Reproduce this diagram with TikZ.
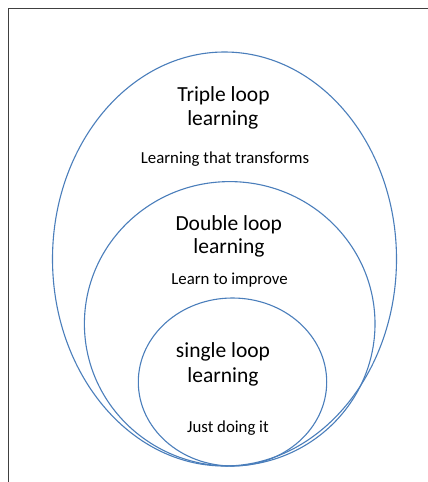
\documentclass[tikz,border=0pt]{standalone}
\usepackage{fontspec}
\setmainfont{Carlito}
\usetikzlibrary{shapes.geometric}
\definecolor{loopblue}{HTML}{4A7EBB}
\definecolor{framegray}{HTML}{404040}
\begin{document}
\begin{tikzpicture}[x=1pt,y=-1pt,
  loopring/.style={draw=loopblue,line width=1.1pt,ellipse,inner sep=0pt},
  titletext/.style={inner sep=0pt,anchor=base,font=\fontsize{21.5}{24}\selectfont},
  subtext/.style={inner sep=0pt,anchor=base,font=\fontsize{16.8}{20}\selectfont}]
\useasboundingbox (0,0) rectangle (428,482);
\fill[white] (0,0) rectangle (428,482);
\coordinate (ftr) at (428,8);
\coordinate (fc) at (8,8);
\coordinate (fbl) at (8,482);
\draw[framegray,line width=1pt] (ftr) -- (fc) -- (fbl);
% rings
\node[loopring,minimum width=344pt,minimum height=414pt] (outer) at (224.5,259) {};
\node[loopring,minimum width=290.6pt,minimum height=284.4pt] (middle) at (229.7,323.8) {};
\node[loopring,minimum width=188.4pt,minimum height=168pt] (inner) at (232.5,382) {};
% triple
\node[titletext] (t1) at (223.5,101.7) {Triple loop};
\node[titletext] (t2) at (222.8,125) {learning};
\node[subtext] (t3) at (225,163) {Learning that transforms};
% double
\node[titletext] (d1) at (228.8,230) {Double loop};
\node[titletext] (d2) at (229,253.3) {learning};
\node[subtext] (d3) at (229.5,284) {Learn to improve};
% single
\node[titletext] (s1) at (223,357.3) {single loop};
\node[titletext] (s2) at (223,382.7) {learning};
\node[subtext] (s3) at (228,432.7) {Just doing it};
\end{tikzpicture}
\end{document}
